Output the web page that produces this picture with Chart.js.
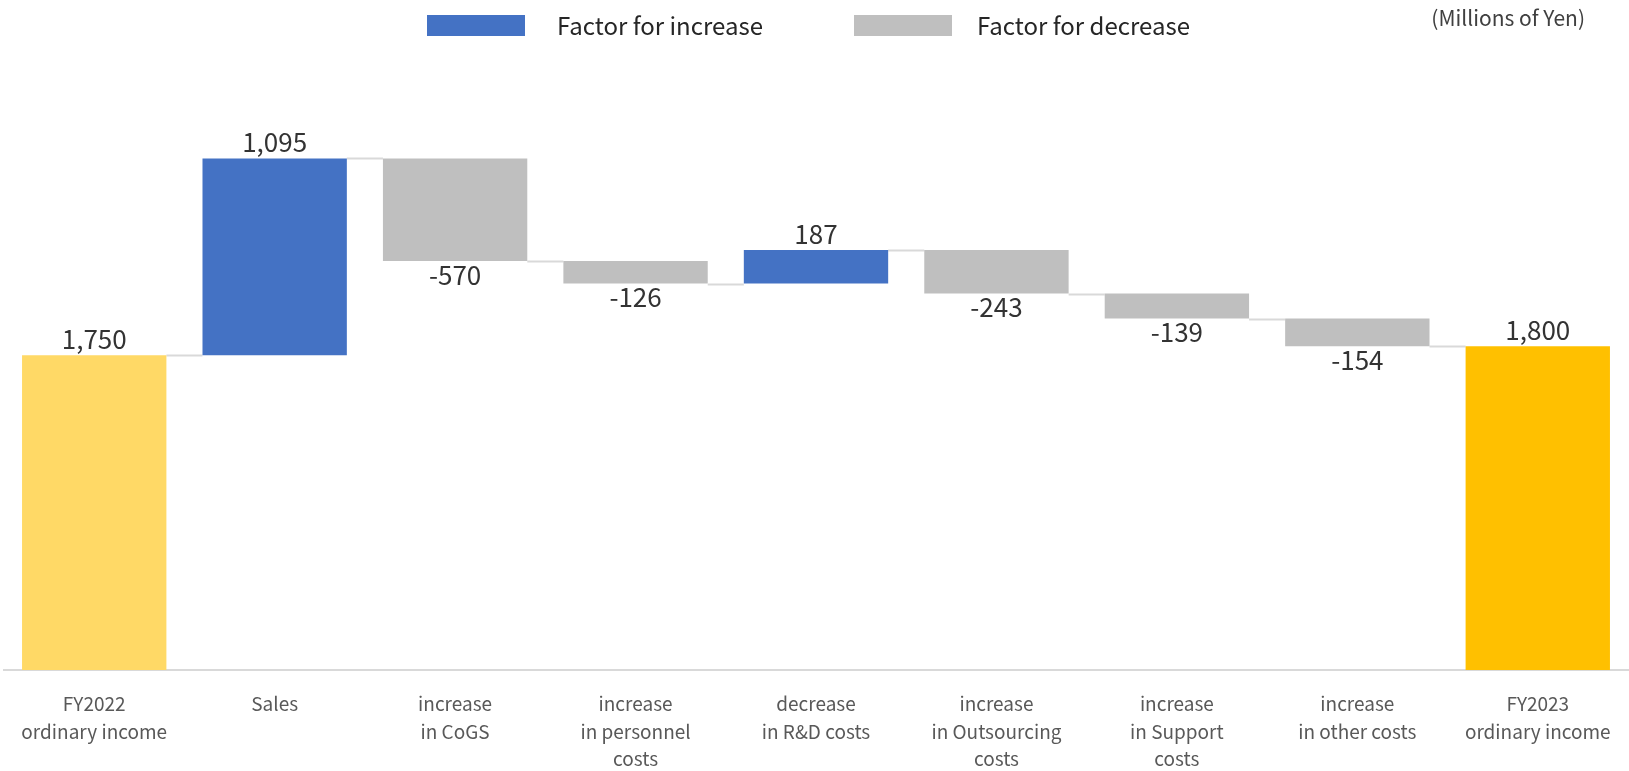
<!DOCTYPE html>
<html>
<head>
<meta charset="utf-8">
<script src="https://cdn.jsdelivr.net/npm/chart.js@4"></script>
<style>
  html, body { margin: 0; padding: 0; background: #fff; }
  #wrap { width: 1629px; height: 771px; }
</style>
</head>
<body>
<div id="wrap"><canvas id="myChart"></canvas></div>
<script>
// categories and step values (first and last are totals)
var categories = [
    ["FY2022", "ordinary income"],
    ["Sales"],
    ["increase", "in CoGS"],
    ["increase", "in personnel", "costs"],
    ["decrease", "in R&D costs"],
    ["increase", "in Outsourcing", "costs"],
    ["increase", "in Support", "costs"],
    ["increase", "in other costs"],
    ["FY2023", "ordinary income"]
];
var steps = [1750, 1095, -570, -126, 187, -243, -139, -154, 1800];
var isTotal = [true, false, false, false, false, false, false, false, true];

var legend_items = ["Factor for increase", "Factor for decrease"];
var unit_label = "(Millions of Yen)";

var col_up = '#4472C4';
var col_down = '#BFBFBF';
var col_start = '#FFD966';
var col_end = '#FFC000';

// floating ranges + running level after each bar
var ranges = [];
var levels = [];
var running = 0;
steps.forEach(function(v, i){
    if (isTotal[i]) {
        ranges.push([0, v]);
        running = v;
    } else {
        ranges.push([running, running + v]);
        running += v;
    }
    levels.push(running);
});

var colors = steps.map(function(v, i){
    if (i == 0) return col_start;
    if (i == steps.length - 1) return col_end;
    return v >= 0 ? col_up : col_down;
});

function fmt(v){
    return v.toLocaleString('en-US');
}

var FONT = '"Noto Sans CJK JP", "Noto Sans", sans-serif';

// connector lines between bars
var connectors = {
    id: 'connectors',
    beforeDatasetsDraw: function(chart){
        var ctx = chart.ctx;
        var meta = chart.getDatasetMeta(0);
        var y = chart.scales.y;
        ctx.save();
        ctx.strokeStyle = '#D9D9D9';
        ctx.lineWidth = 2;
        for (var i = 0; i < meta.data.length - 1; i++) {
            var a = meta.data[i], b = meta.data[i + 1];
            var py = Math.round(y.getPixelForValue(levels[i])) + 0.5;
            ctx.beginPath();
            ctx.moveTo(a.x + a.width / 2, py);
            ctx.lineTo(b.x - b.width / 2, py);
            ctx.stroke();
        }
        ctx.restore();
    }
};

// value labels above / below each bar
var valueLabels = {
    id: 'valueLabels',
    afterDatasetsDraw: function(chart){
        var ctx = chart.ctx;
        var meta = chart.getDatasetMeta(0);
        var y = chart.scales.y;
        ctx.save();
        ctx.font = '26px ' + FONT;
        ctx.fillStyle = '#333333';
        ctx.textAlign = 'center';
        meta.data.forEach(function(bar, i){
            var r = ranges[i];
            var v = steps[i];
            if (v >= 0) {
                ctx.textBaseline = 'bottom';
                ctx.fillText(fmt(v), bar.x, y.getPixelForValue(Math.max(r[0], r[1])) - 3);
            } else {
                ctx.textBaseline = 'top';
                ctx.fillText(fmt(v), bar.x, y.getPixelForValue(Math.min(r[0], r[1])) + 1);
            }
        });
        ctx.restore();
    }
};

// legend boxes and unit note along the top
var topNotes = {
    id: 'topNotes',
    afterDraw: function(chart){
        var ctx = chart.ctx;
        ctx.save();
        ctx.textBaseline = 'middle';
        ctx.textAlign = 'left';
        ctx.font = '24px ' + FONT;
        ctx.fillStyle = col_up;
        ctx.fillRect(427, 15, 98, 21);
        ctx.fillStyle = col_down;
        ctx.fillRect(854, 15, 98, 21);
        ctx.fillStyle = '#262626';
        ctx.fillText(legend_items[0], 557, 26);
        ctx.fillText(legend_items[1], 977, 26);
        ctx.font = '21px ' + FONT;
        ctx.fillStyle = '#404040';
        ctx.textAlign = 'right';
        ctx.fillText(unit_label, 1585, 18);
        ctx.restore();
    }
};

var data = {
    labels: categories,
    datasets: [
        {
            data: ranges,
            backgroundColor: colors,
            borderSkipped: false,
            barPercentage: 0.8,
            categoryPercentage: 1.0,
        }
    ]
};

var config = {
    type: 'bar',
    data,
    options: {
        responsive: true,
        maintainAspectRatio: false,
        animation: false,
        layout: { padding: { top: 135, left: 4, right: 1, bottom: 0 } },
        plugins: {
            legend: { display: false },
            tooltip: { enabled: false },
        },
        scales: {
            x: {
                grid: { display: false },
                border: { color: '#D9D9D9', width: 2 },
                ticks: {
                    color: '#595959',
                    font: { family: FONT, size: 19, lineHeight: 1.45 },
                    padding: 12,
                    maxRotation: 0,
                    autoSkip: false,
                },
                afterFit: function(axis){ axis.height = 101; }
            },
            y: {
                display: false,
                min: 0,
                max: 2975,
            }
        }
    },
    plugins: [connectors, valueLabels, topNotes]
};

var myChart = new Chart(
    document.getElementById('myChart'),
    config
);
</script>
</body>
</html>
